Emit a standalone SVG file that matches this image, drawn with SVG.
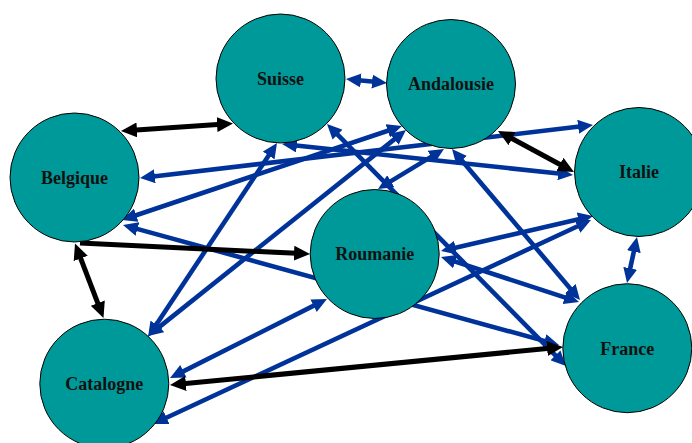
<svg xmlns="http://www.w3.org/2000/svg" width="692" height="443" viewBox="0 0 692 443">
<style>
.n{fill:#009999;stroke:#000;stroke-width:1}
.t{font-family:"Liberation Serif","DejaVu Serif",serif;font-weight:bold;font-size:18px;fill:#111;text-anchor:middle}
.b{stroke:#003399;stroke-width:4.6;fill:none;marker-start:url(#ab);marker-end:url(#ab)}
.k{stroke:#000;stroke-width:5;fill:none;marker-start:url(#ak);marker-end:url(#ak)}
</style>
<defs>
<marker id="ab" markerUnits="userSpaceOnUse" markerWidth="15" markerHeight="14" refX="8" refY="7" orient="auto-start-reverse" viewBox="0 0 15 14"><path d="M0,0 L15,7 L0,14 z" fill="#003399"/></marker>
<marker id="ak" markerUnits="userSpaceOnUse" markerWidth="16" markerHeight="15" refX="8" refY="7.5" orient="auto-start-reverse" viewBox="0 0 16 15"><path d="M0,0 L16,7.5 L0,15 z" fill="#000"/></marker>
</defs>
<rect width="692" height="443" fill="#fff"/>
<g id="connectors">
<line class="b" x1="352.97" y1="79.68" x2="380.03" y2="82.32"/>
<line class="b" x1="288.96" y1="144.74" x2="566.04" y2="174.26"/>
<line class="b" x1="146.95" y1="177.19" x2="586.05" y2="125.81"/>
<line class="b" x1="128.64" y1="217.77" x2="395.36" y2="128.23"/>
<line class="b" x1="129.75" y1="226.86" x2="552.25" y2="343.14"/>
<line class="b" x1="331.92" y1="128.98" x2="561.08" y2="361.02"/>
<line class="b" x1="456.53" y1="154.34" x2="575.47" y2="294.66"/>
<line class="b" x1="438.01" y1="152.63" x2="383.99" y2="185.37"/>
<line class="b" x1="400.53" y1="134.37" x2="153.47" y2="331.63"/>
<line class="b" x1="273.12" y1="148.83" x2="151.88" y2="331.17"/>
<line class="b" x1="320.75" y1="302.15" x2="176.25" y2="374.85"/>
<line class="b" x1="447.82" y1="249.43" x2="586.18" y2="217.57"/>
<line class="b" x1="447.66" y1="259.17" x2="572.34" y2="299.83"/>
<line class="b" x1="584.65" y1="222.96" x2="159.35" y2="421.04"/>
<line class="b" x1="635.51" y1="243.84" x2="628.49" y2="276.16"/>
<line class="k" x1="128.98" y1="130.47" x2="225.02" y2="124.03"/>
<line class="k" x1="505.04" y1="134.8" x2="566.96" y2="168.2"/>
<line class="k" x1="80" y1="243" x2="302.01" y2="253.62" style="marker-start:none"/>
<line class="k" x1="77.86" y1="250.97" x2="100.64" y2="310.53"/>
<line class="k" x1="177.96" y1="384.23" x2="555.04" y2="347.77"/>
</g>
<g id="suisse"><circle class="n" cx="280.5" cy="78.5" r="64.5"/><text class="t" x="280.5" y="85">Suisse</text></g>
<g id="andalousie"><circle class="n" cx="451" cy="84" r="64.5"/><text class="t" x="451" y="90">Andalousie</text></g>
<g id="belgique"><circle class="n" cx="74.5" cy="177.5" r="64.5"/><text class="t" x="74.5" y="184">Belgique</text></g>
<g id="italie"><circle class="n" cx="639" cy="172" r="64.5"/><text class="t" x="639" y="178">Italie</text></g>
<g id="roumanie"><circle class="n" cx="374.7" cy="254" r="64.5"/><text class="t" x="374.7" y="260">Roumanie</text></g>
<g id="france"><circle class="n" cx="627.3" cy="348.2" r="64.5"/><text class="t" x="627.3" y="354.5">France</text></g>
<g id="catalogne"><circle class="n" cx="104.3" cy="383.7" r="64.5"/><text class="t" x="104.3" y="389.5">Catalogne</text></g>
</svg>
